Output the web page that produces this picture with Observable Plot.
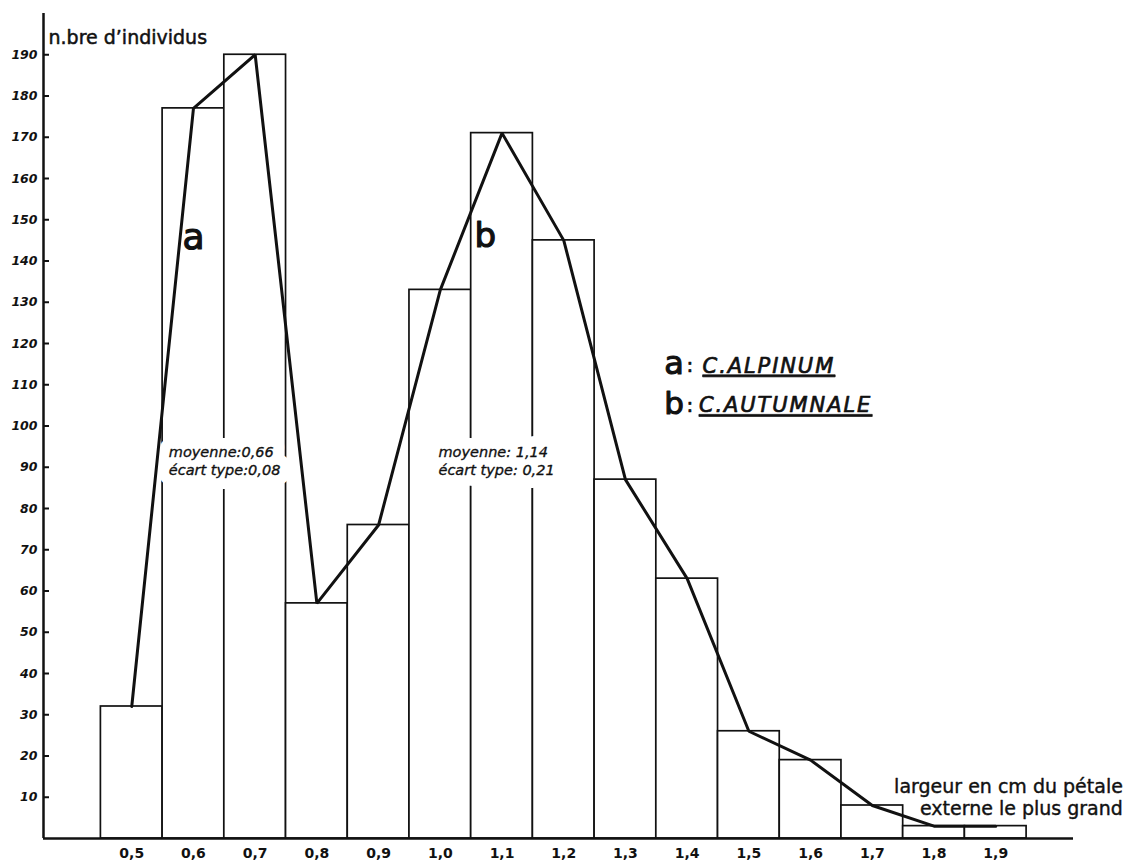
<!DOCTYPE html>
<html>
<head>
<meta charset="utf-8">
<script src="https://cdn.jsdelivr.net/npm/d3@7"></script>
<script src="https://cdn.jsdelivr.net/npm/@observablehq/plot@0.6"></script>
<style>
  body { margin: 0; background: #fff; }
  svg { display: block; }
</style>
</head>
<body>
<div id="chart"></div>
<script>
// Class centres (largeur en cm) and number of individuals
const classes = [0.5, 0.6, 0.7, 0.8, 0.9, 1.0, 1.1, 1.2, 1.3, 1.4, 1.5, 1.6, 1.7, 1.8, 1.9];
const counts  = [32, 177, 190, 57, 76, 133, 171, 145, 87, 63, 26, 19, 8, 3, 3];
const xTickLabels = ["0,5","0,6","0,7","0,8","0,9","1,0","1,1","1,2","1,3","1,4","1,5","1,6","1,7","1,8","1,9"];
const yTicks = [10, 20, 30, 40, 50, 60, 70, 80, 90, 100, 110, 120, 130, 140, 150, 160, 170, 180, 190];
const binWidth = 0.1;

const statsA = ["moyenne:0,66", "écart type:0,08"];
const statsB = ["moyenne: 1,14", "écart type: 0,21"];
const yTitle = "n.bre d’individus";
const xTitle = ["largeur en cm du pétale", "externe le plus grand"];
const legendA = ["a", ":", "C.ALPINUM"];
const legendB = ["b", ":", "C.AUTUMNALE"];

const data = classes.map((x, i) => ({x, n: counts[i]}));
const xDomain = [0.357, 2.026];
const yDomain = [0, 200];
const ink = "#111";

// two stat lines each: halo first, then the ink
const statText = (lines, x) => [
  ...lines.map((t, i) => Plot.text([t], {
    x, y: i === 0 ? 93.6 : 89.2, text: d => d, textAnchor: "start", lineAnchor: "middle",
    fontSize: 14.5, fontStyle: "italic", fill: "white", stroke: "white", strokeWidth: 22, strokeLinejoin: "round"
  })),
  ...lines.map((t, i) => Plot.text([t], {
    x, y: i === 0 ? 93.6 : 89.2, text: d => d, textAnchor: "start", lineAnchor: "middle",
    fontSize: 14.5, fontStyle: "italic", fill: ink, stroke: ink, strokeWidth: 0.35
  }))
];

const bold = {stroke: ink, strokeWidth: 0.7, fill: ink};

const chart = Plot.plot({
  width: 1127,
  height: 862,
  marginLeft: 43,
  marginRight: 54,
  marginTop: 13,
  marginBottom: 24,
  x: {domain: xDomain},
  y: {domain: yDomain},
  style: {fontFamily: "DejaVu Sans", background: "#fff", color: ink},
  marks: [
    Plot.rectY(data, {
      x1: d => d.x - binWidth / 2,
      x2: d => d.x + binWidth / 2,
      y: "n",
      fill: "white",
      stroke: ink,
      strokeWidth: 1.7
    }),
    ...statText(statsA, 0.560),
    ...statText(statsB, 0.997),
    Plot.line(data, {x: "x", y: "n", stroke: ink, strokeWidth: 3, strokeLinejoin: "miter"}),
    Plot.ruleY([yDomain[0]], {stroke: ink, strokeWidth: 2.5}),
    Plot.ruleX([xDomain[0]], {stroke: ink, strokeWidth: 2.5}),
    Plot.axisY({
      ticks: yTicks, tickSize: -6, tickPadding: 12, tickFormat: d => String(d),
      fontSize: 12.5, fontWeight: "bold", fontStyle: "italic", strokeWidth: 2, stroke: ink, fill: ink, label: null
    }),
    Plot.axisX({
      ticks: classes, tickSize: 0, tickPadding: 10,
      tickFormat: d => xTickLabels[classes.indexOf(d)],
      fontSize: 14, fontWeight: "bold", fill: ink, label: null
    }),
    Plot.text([yTitle], {x: 0.3651, y: 192.7, text: d => d, textAnchor: "start", lineAnchor: "bottom", fontSize: 19, ...bold, strokeWidth: 0.5}),
    Plot.text(["a"], {x: 0.600, y: 143, text: d => d, textAnchor: "middle", lineAnchor: "bottom", fontSize: 36, ...bold, strokeWidth: 1.2}),
    Plot.text(["b"], {x: 1.073, y: 143.3, text: d => d, textAnchor: "middle", lineAnchor: "bottom", fontSize: 34, ...bold, strokeWidth: 1.2}),
    Plot.text([xTitle.join("\n")], {x: 2.106, y: 5.6, text: d => d, textAnchor: "end", lineAnchor: "bottom", lineHeight: 1.16, fontSize: 19, ...bold, strokeWidth: 0.4}),
    Plot.text([legendA[0]], {x: 1.363, y: 112.7, text: d => d, textAnchor: "start", lineAnchor: "bottom", fontSize: 32, ...bold, strokeWidth: 1.1}),
    Plot.text([legendA[1]], {x: 1.399, y: 113, text: d => d, textAnchor: "start", lineAnchor: "bottom", fontSize: 20, ...bold}),
    Plot.text([legendA[2]], {x: 1.425, y: 112.9, text: d => d, textAnchor: "start", lineAnchor: "bottom", fontSize: 21, fontStyle: "italic", ...bold}),
    Plot.text([legendB[0]], {x: 1.363, y: 103, text: d => d, textAnchor: "start", lineAnchor: "bottom", fontSize: 31, ...bold, strokeWidth: 1.1}),
    Plot.text([legendB[1]], {x: 1.399, y: 103.3, text: d => d, textAnchor: "start", lineAnchor: "bottom", fontSize: 20, ...bold}),
    Plot.text([legendB[2]], {x: 1.419, y: 103.3, text: d => d, textAnchor: "start", lineAnchor: "bottom", fontSize: 21, fontStyle: "italic", ...bold})
  ]
});

d3.select(chart).selectAll("text")
  .filter(function() { return this.textContent === legendA[2] || this.textContent === legendB[2]; })
  .style("text-decoration", "underline")
  .style("text-decoration-thickness", "2px")
  .style("letter-spacing", "1.9px");

document.getElementById("chart").appendChild(chart);
</script>
</body>
</html>
